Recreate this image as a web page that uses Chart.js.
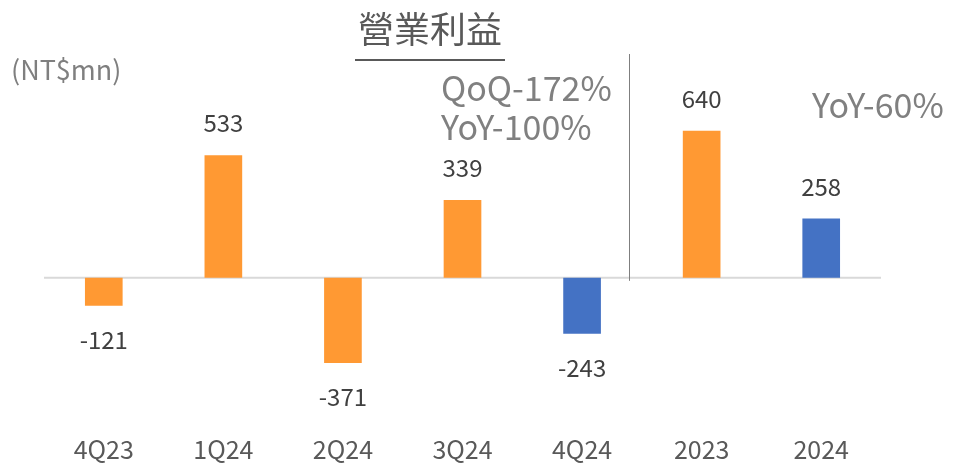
<!DOCTYPE html>
<html>
<head>
<meta charset="utf-8">
<script src="https://cdn.jsdelivr.net/npm/chart.js@4/dist/chart.umd.min.js"></script>
<style>
html,body{margin:0;padding:0;background:#fff;}
#wrap{position:relative;width:953px;height:464px;}
</style>
</head>
<body>
<div id="wrap"><canvas id="c" width="953" height="464"></canvas></div>
<script>
const categories = ["4Q23","1Q24","2Q24","3Q24","4Q24","2023","2024"];
const values = [-121, 533, -371, 339, -243, 640, 258];
const barColors = ["#FF9933","#FF9933","#FF9933","#FF9933","#4472C4","#FF9933","#4472C4"];
const titleText = "營業利益";
const unitText = "(NT$mn)";
const quarterNotes = ["QoQ-172%", "YoY-100%"];
const yearNote = "YoY-60%";

const FONT = "'Noto Sans CJK TC', 'Noto Sans', sans-serif";

const decor = {
  id: 'decor',
  beforeDatasetsDraw(chart) {
    const ctx = chart.ctx, a = chart.chartArea, y = chart.scales.y;
    const y0 = y.getPixelForValue(0);
    ctx.save();
    ctx.strokeStyle = '#D9D9D9';
    ctx.lineWidth = 2;
    ctx.beginPath();
    ctx.moveTo(a.left, y0);
    ctx.lineTo(a.right, y0);
    ctx.stroke();
    ctx.restore();
  },
  afterDatasetsDraw(chart) {
    const ctx = chart.ctx, a = chart.chartArea, y = chart.scales.y, x = chart.scales.x;
    const meta = chart.getDatasetMeta(0);
    ctx.save();
    // data labels
    ctx.font = "24px " + FONT;
    ctx.fillStyle = '#404040';
    ctx.textAlign = 'center';
    ctx.textBaseline = 'middle';
    meta.data.forEach((bar, i) => {
      const v = values[i];
      const ly = v >= 0 ? bar.y - 32 : bar.y + 34;
      ctx.fillText(String(v), bar.x, ly);
    });
    // divider between quarters and years
    const xd = x.getPixelForValue(4) * 0.61 + x.getPixelForValue(5) * 0.39;
    ctx.strokeStyle = '#7F7F7F';
    ctx.lineWidth = 1;
    ctx.beginPath();
    ctx.moveTo(Math.round(xd) + 0.5, 54);
    ctx.lineTo(Math.round(xd) + 0.5, y.getPixelForValue(0) + 3);
    ctx.stroke();
    // title
    ctx.textAlign = 'center';
    ctx.textBaseline = 'alphabetic';
    ctx.fillStyle = '#595959';
    ctx.font = "36px " + FONT;
    ctx.fillText(titleText, 430, 43);
    ctx.strokeStyle = '#595959';
    ctx.lineWidth = 2;
    ctx.beginPath();
    ctx.moveTo(355, 60);
    ctx.lineTo(505, 60);
    ctx.stroke();
    // unit
    ctx.textAlign = 'left';
    ctx.fillStyle = '#7F7F7F';
    ctx.font = "27px " + FONT;
    ctx.fillText(unitText, 11, 80);
    // notes
    ctx.fillStyle = '#808080';
    ctx.font = "34px " + FONT;
    ctx.fillText(quarterNotes[0], 441, 101);
    ctx.fillText(quarterNotes[1], 441, 140);
    ctx.fillText(yearNote, 812, 118);
    ctx.restore();
  }
};

new Chart(document.getElementById('c'), {
  type: 'bar',
  data: {
    labels: categories,
    datasets: [{
      data: values,
      backgroundColor: barColors,
      borderWidth: 0,
      barPercentage: 0.315,
      categoryPercentage: 1.0
    }]
  },
  options: {
    responsive: false,
    animation: false,
    devicePixelRatio: 1,
    layout: { padding: { left: 44, right: 72, top: 94, bottom: 0 } },
    plugins: { legend: { display: false }, tooltip: { enabled: false } },
    scales: {
      x: {
        grid: { display: false, drawTicks: false },
        border: { display: false },
        ticks: { color: '#595959', font: { family: FONT, size: 25 }, padding: 19, maxRotation: 0 },
        afterFit: (scale) => { scale.height = 48.3; }
      },
      y: {
        display: false,
        min: -600,
        max: 800
      }
    }
  },
  plugins: [decor]
});
</script>
</body>
</html>
